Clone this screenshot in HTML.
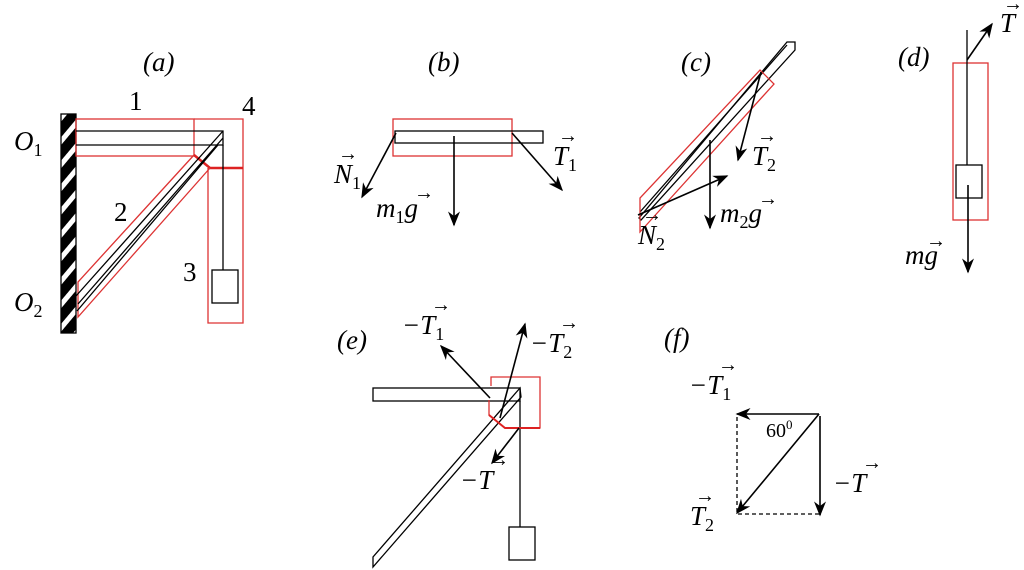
<!DOCTYPE html>
<html><head><meta charset="utf-8"><style>
html,body{margin:0;padding:0;background:#fff;}
svg{display:block;}
text{font-family:"Liberation Serif",serif;font-style:italic;font-size:27px;fill:#000;}
.n{font-style:normal;}
.s{font-size:18px;font-style:normal;}
.ar{font-size:20px;font-style:normal;}
</style></head><body>
<svg width="1024" height="570" viewBox="0 0 1024 570" xmlns="http://www.w3.org/2000/svg">
<defs>
<marker id="b" viewBox="0 0 10 10" refX="9" refY="5" markerWidth="15" markerHeight="15" orient="auto" markerUnits="userSpaceOnUse"><path d="M0,1 L10,5 L0,9 L3,5z" fill="#000"/></marker>
<pattern id="h" width="15" height="15" patternUnits="userSpaceOnUse" patternTransform="rotate(-50)"><rect width="15" height="15" fill="#000"/><rect width="15" height="5" fill="#fff"/></pattern>
</defs>
<g fill="none" stroke-width="1.3">
<!-- (a) -->
<rect x="61" y="114" width="15" height="219" fill="url(#h)" stroke="#000"/>
<rect x="76" y="119" width="118" height="37" stroke="#d33"/>
<path d="M194,119 H243 V323 H208 V168" stroke="#d33"/>
<path d="M194,155 L210,168 H243" stroke="#d22" stroke-width="2.5"/>
<path d="M194,155 L78,282 V317 L210,168" stroke="#d33"/>
<path d="M76,131 H223 V145 H76" stroke="#000"/>
<path d="M223,131 L76,296 M223,138 L78,304 M218,145 L77,311" stroke="#000"/>
<path d="M223,145 V270" stroke="#000"/>
<rect x="212" y="270" width="26" height="33" stroke="#000"/>
<!-- (b) -->
<rect x="393" y="119" width="119" height="37" stroke="#d33"/>
<rect x="395" y="131" width="148" height="12" stroke="#000"/>
<g stroke="#000" stroke-width="1.6">
<line x1="396" y1="133" x2="362" y2="197" marker-end="url(#b)"/>
<line x1="512" y1="133" x2="562" y2="190" marker-end="url(#b)"/>
<line x1="454" y1="136" x2="454" y2="225" marker-end="url(#b)"/>
</g>
<!-- (c) -->
<path d="M787,42 L795,42 V50 L641,220 L639,218 Z" stroke="#000"/>
<path d="M787,45 L640,212" stroke="#000"/>
<path d="M760,70 L774,84 L640,232 V198 Z" stroke="#d33"/>
<g stroke="#000" stroke-width="1.6">
<line x1="761" y1="72" x2="738" y2="160" marker-end="url(#b)"/>
<line x1="710" y1="140" x2="710" y2="228" marker-end="url(#b)"/>
<line x1="638" y1="215" x2="727" y2="176" marker-end="url(#b)"/>
</g>
<!-- (d) -->
<rect x="953" y="63" width="35" height="157" stroke="#d33"/>
<line x1="967" y1="30" x2="967" y2="165" stroke="#000"/>
<rect x="956" y="165" width="26" height="33" stroke="#000"/>
<g stroke="#000" stroke-width="1.6">
<line x1="967" y1="60" x2="992" y2="24" marker-end="url(#b)"/>
<line x1="968" y1="185" x2="968" y2="272" marker-end="url(#b)"/>
</g>
<!-- (e) -->
<rect x="373" y="388" width="147" height="13" stroke="#000"/>
<path d="M520,388 L373,557 V567 L521,397 Z" stroke="#000"/>
<path d="M520,401 V527" stroke="#000"/>
<rect x="509" y="527" width="26" height="33" stroke="#000"/>
<path d="M491,386 V377 H540 V428 H505 L489,415 V400" stroke="#d33"/>
<path d="M489,415 L505,428 H540" stroke="#d22" stroke-width="2"/>
<g stroke="#000" stroke-width="1.6">
<line x1="490" y1="398" x2="441" y2="346" marker-end="url(#b)"/>
<line x1="500" y1="418" x2="525" y2="324" marker-end="url(#b)"/>
<line x1="519" y1="428" x2="492" y2="463" marker-end="url(#b)"/>
</g>
<!-- (f) -->
<path d="M737,417 V514 H820" stroke="#000" stroke-dasharray="4,3"/>
<g stroke="#000" stroke-width="1.6">
<line x1="819" y1="414" x2="737" y2="414" marker-end="url(#b)"/>
<line x1="819" y1="414" x2="737" y2="513" marker-end="url(#b)"/>
<line x1="820" y1="416" x2="820" y2="515" marker-end="url(#b)"/>
</g>
</g>
<!-- labels -->
<text x="143" y="71">(a)</text>
<text x="428" y="71">(b)</text>
<text x="681" y="71">(c)</text>
<text x="898" y="66">(d)</text>
<text x="337" y="349">(e)</text>
<text x="664" y="347">(f)</text>
<text class="n" x="129" y="110">1</text>
<text class="n" x="242" y="115">4</text>
<text class="n" x="114" y="221">2</text>
<text class="n" x="183" y="281">3</text>
<text x="14" y="150">O<tspan class="s" dy="6">1</tspan></text>
<text x="14" y="311">O<tspan class="s" dy="6">2</tspan></text>
<text x="334" y="183">N<tspan class="s" dy="6">1</tspan></text><text class="ar" x="338" y="160">→</text>
<text x="553" y="165">T<tspan class="s" dy="6">1</tspan></text><text class="ar" x="558" y="142">→</text>
<text x="376" y="217">m<tspan class="s" dy="6">1</tspan><tspan dy="-6">g</tspan></text><text class="ar" x="414" y="199">→</text>
<text x="752" y="165">T<tspan class="s" dy="6">2</tspan></text><text class="ar" x="757" y="142">→</text>
<text x="720" y="222">m<tspan class="s" dy="6">2</tspan><tspan dy="-6">g</tspan></text><text class="ar" x="758" y="205">→</text>
<text x="638" y="244">N<tspan class="s" dy="6">2</tspan></text><text class="ar" x="642" y="221">→</text>
<text x="1000" y="32">T</text><text class="ar" x="1003" y="10">→</text>
<text x="905" y="264">m<tspan>g</tspan></text><text class="ar" x="926" y="247">→</text>
<text x="402" y="334">−T<tspan class="s" dy="6">1</tspan></text><text class="ar" x="431" y="311">→</text>
<text x="530" y="352">−T<tspan class="s" dy="6">2</tspan></text><text class="ar" x="559" y="329">→</text>
<text x="460" y="489">−T</text><text class="ar" x="489" y="466">→</text>
<text x="689" y="394">−T<tspan class="s" dy="6">1</tspan></text><text class="ar" x="718" y="371">→</text>
<text x="833" y="492">−T</text><text class="ar" x="862" y="469">→</text>
<text x="690" y="525">T<tspan class="s" dy="6">2</tspan></text><text class="ar" x="695" y="502">→</text>
<text class="n" x="766" y="437" style="font-size:20px">60<tspan dy="-8" style="font-size:13px">0</tspan></text>
</svg>
</body></html>
